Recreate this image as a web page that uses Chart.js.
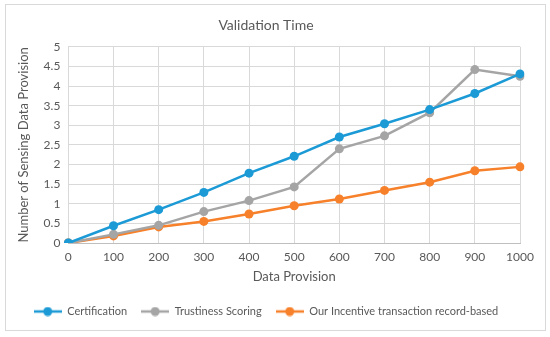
<!DOCTYPE html>
<html>
<head>
<meta charset="utf-8">
<script src="https://cdn.jsdelivr.net/npm/chart.js@4.4.0/dist/chart.umd.min.js"></script>
<style>
  html, body { margin: 0; padding: 0; background: #fff; }
  #frame { position: absolute; left: 5px; top: 4px; width: 539px; height: 325px; border: 1px solid #d9d9d9; }
  #wrap { position: absolute; left: 0; top: 0; width: 550px; height: 337px; }
</style>
</head>
<body>
<div id="frame"></div>
<div id="wrap"><canvas id="chart" width="550" height="337"></canvas></div>
<script>
const provisions = ["0", "100", "200", "300", "400", "500", "600", "700", "800", "900", "1000"];
const certification = [0, 0.44, 0.85, 1.29, 1.78, 2.21, 2.70, 3.04, 3.40, 3.81, 4.31];
const trustiness = [0, 0.22, 0.45, 0.80, 1.08, 1.43, 2.40, 2.73, 3.32, 4.42, 4.25];
const incentive = [0, 0.18, 0.41, 0.55, 0.74, 0.95, 1.12, 1.34, 1.55, 1.84, 1.94];

const TEXT = "#595959";
const FONT = "Lato, 'Open Sans', sans-serif";

// legend marker: short line with a dot in the middle
function legendMark(color) {
    const c = document.createElement("canvas");
    c.width = 28;
    c.height = 10;
    const g = c.getContext("2d");
    g.strokeStyle = color;
    g.lineWidth = 2.5;
    g.beginPath();
    g.moveTo(0, 5);
    g.lineTo(28, 5);
    g.stroke();
    g.fillStyle = color;
    g.beginPath();
    g.arc(14, 5, 4.5, 0, Math.PI * 2);
    g.fill();
    return c;
}

function series(label, data, color) {
    return {
        label: label,
        data: data,
        borderColor: color,
        backgroundColor: color,
        borderWidth: 2.5,
        pointRadius: 4.5,
        pointHoverRadius: 4.5,
        pointBorderWidth: 0,
        tension: 0
    };
}

const datasets = [
    series("Certification", certification, "#1b9ad6"),
    series("Trustiness Scoring", trustiness, "#a5a5a5"),
    series("Our Incentive transaction record-based", incentive, "#f7802a")
];

new Chart(document.getElementById("chart"), {
    type: "line",
    data: { labels: provisions, datasets: datasets },
    options: {
        responsive: false,
        animation: false,
        layout: { padding: { left: 12, right: 30, top: 13, bottom: 10 } },
        plugins: {
            title: {
                display: true,
                text: "Validation Time",
                color: TEXT,
                font: { family: FONT, size: 14, weight: "normal" },
                padding: { top: 4, bottom: 13 }
            },
            legend: {
                position: "bottom",
                labels: {
                    color: TEXT,
                    font: { family: FONT, size: 11 },
                    usePointStyle: true,
                    pointStyleWidth: 28,
                    boxHeight: 10,
                    padding: 14,
                    generateLabels: chart => chart.data.datasets.map((ds, i) => ({
                        text: ds.label,
                        pointStyle: legendMark(ds.borderColor),
                        fillStyle: ds.borderColor,
                        strokeStyle: ds.borderColor,
                        lineWidth: 0,
                        fontColor: TEXT,
                        datasetIndex: i
                    }))
                }
            },
            tooltip: { enabled: false }
        },
        scales: {
            x: {
                offset: false,
                grid: { color: "#d9d9d9", drawTicks: false },
                border: { color: "#bfbfbf" },
                ticks: { color: TEXT, font: { family: FONT, size: 12 }, padding: 7, maxRotation: 0, autoSkip: false },
                title: {
                    display: true,
                    text: "Data Provision",
                    color: TEXT,
                    font: { family: FONT, size: 13 },
                    padding: { top: -2, bottom: 7 }
                }
            },
            y: {
                min: 0,
                max: 5,
                grid: { color: "#d9d9d9", drawTicks: false },
                border: { display: false },
                ticks: {
                    stepSize: 0.5,
                    autoSkip: false,
                    color: TEXT,
                    font: { family: FONT, size: 12 },
                    padding: 8,
                    callback: v => String(v)
                },
                title: {
                    display: true,
                    text: "Number of Sensing Data Provision",
                    color: TEXT,
                    font: { family: FONT, size: 13 },
                    padding: { bottom: 4 }
                }
            }
        }
    }
});
</script>
</body>
</html>
